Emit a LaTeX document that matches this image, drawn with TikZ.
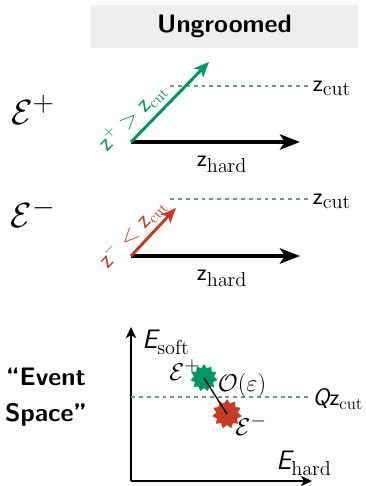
\documentclass[tikz,border=0pt]{standalone}
\usepackage{xcolor}
\usepackage{tikz}
\usetikzlibrary{shapes.geometric, arrows.meta, positioning}
\definecolor{zgreen}{RGB}{0,150,100}
\definecolor{zred}{RGB}{195,60,35}
\definecolor{cutgray}{RGB}{125,145,145}
\definecolor{headgray}{RGB}{238,238,238}

\begin{document}
\begin{tikzpicture}[
      x=0.025cm, y=-0.025cm,
      header/.style={rectangle, fill=headgray, minimum width=6.675cm, minimum height=1.075cm, font=\fontsize{18}{21}\selectfont\sffamily\bfseries},
      lbl/.style={font=\fontsize{19}{22}\selectfont},
      rotlbl/.style={font=\fontsize{16}{19}\selectfont},
      biglbl/.style={font=\fontsize{32}{36}\selectfont},
      sidelbl/.style={align=center, font=\fontsize{18}{26}\selectfont\sffamily\bfseries},
      hard/.style={-{Stealth[length=0.5cm, width=0.38cm, inset=0.12cm]}, line width=2.8pt},
      soft/.style={-{Stealth[length=0.38cm, width=0.32cm, inset=0.1cm]}, line width=2.1pt},
      cutline/.style={cutgray, line width=1.3pt, dash pattern=on 2.8pt off 2.8pt},
      axis/.style={-{Stealth[length=0.28cm, width=0.26cm, inset=0.08cm]}, line width=2pt},
      event/.style={star, star points=11, star point ratio=1.35, inner sep=0pt}
    ]
      \useasboundingbox (0,0) rectangle (366,486);

      % Header
      \node[header] (head) at (224.5,26.5) {Ungroomed};

      % Event E+
      \node[biglbl] (eplus) at (33,110) {$\mathcal{E}^{+}$};
      \coordinate (o1) at (131,142);
      \coordinate (h1) at (300,142);
      \coordinate (g1) at (209,62);
      \coordinate (d1) at (170,86);
      \node[lbl, anchor=west] (zc1) at (308,88) {$\mathsf{z}_{\mathrm{cut}}$};
      \node[lbl] (zh1) at (222,164) {$\mathsf{z}_{\mathrm{hard}}$};
      \draw[cutline] (d1) -- (zc1.west |- d1);
      \draw[hard] (o1) -- (h1);
      \draw[soft, zgreen] (o1) -- (g1);
      \node[rotlbl, zgreen, rotate=45.7] (zp) at (132,117) {$\mathsf{z}^{+} > \mathsf{z}_{\mathrm{cut}}$};

      % Event E-
      \node[biglbl] (eminus) at (33,213) {$\mathcal{E}^{-}$};
      \coordinate (o2) at (131,256);
      \coordinate (h2) at (300,256);
      \coordinate (r2) at (176,208);
      \coordinate (d2) at (170,199);
      \node[lbl, anchor=west] (zc2) at (308,201) {$\mathsf{z}_{\mathrm{cut}}$};
      \node[lbl] (zh2) at (222,278) {$\mathsf{z}_{\mathrm{hard}}$};
      \draw[cutline] (d2) -- (zc2.west |- d2);
      \draw[hard] (o2) -- (h2);
      \draw[soft, zred] (o2) -- (r2);
      \node[rotlbl, zred, rotate=46.9] (zm) at (132,233) {$\mathsf{z}^{-} < \mathsf{z}_{\mathrm{cut}}$};

      % Event space
      \node[sidelbl] (space) at (46,397) {“Event\\Space”};
      \coordinate (ax0) at (131,481);
      \coordinate (ytop) at (131,327);
      \coordinate (xend) at (312,481);
      \draw[axis] (ax0) -- (ytop);
      \draw[axis] (ax0) -- (xend);
      \node[lbl] (esoft) at (166,342) {$\textsf{\itshape E}_{\mathrm{soft}}$};
      \node[lbl] (ehard) at (304,463) {$\textsf{\itshape E}_{\mathrm{hard}}$};
      \node[lbl, anchor=west, font=\fontsize{17}{20}\selectfont] (qzc) at (308,399) {$\textsf{\itshape Q}\mathsf{z}_{\mathrm{cut}}$};
      \draw[cutline] (ax0 |- qzc) ++(0,-2) -- (qzc.west |- 0,397);

      \node[event, fill=zgreen, minimum size=0.68cm] (sp) at (204,378) {};
      \node[event, fill=zred, minimum size=0.74cm] (sm) at (227,414) {};
      \draw[line width=1pt] (sp.center) -- (sm.center);
      \node[lbl] (lp) at (185,370) {$\mathcal{E}^{+}$};
      \node[lbl] (lo) at (242,385) {$\mathcal{O}(\varepsilon)$};
      \node[lbl] (lm) at (251,425) {$\mathcal{E}^{-}$};

    \end{tikzpicture}
\end{document}
